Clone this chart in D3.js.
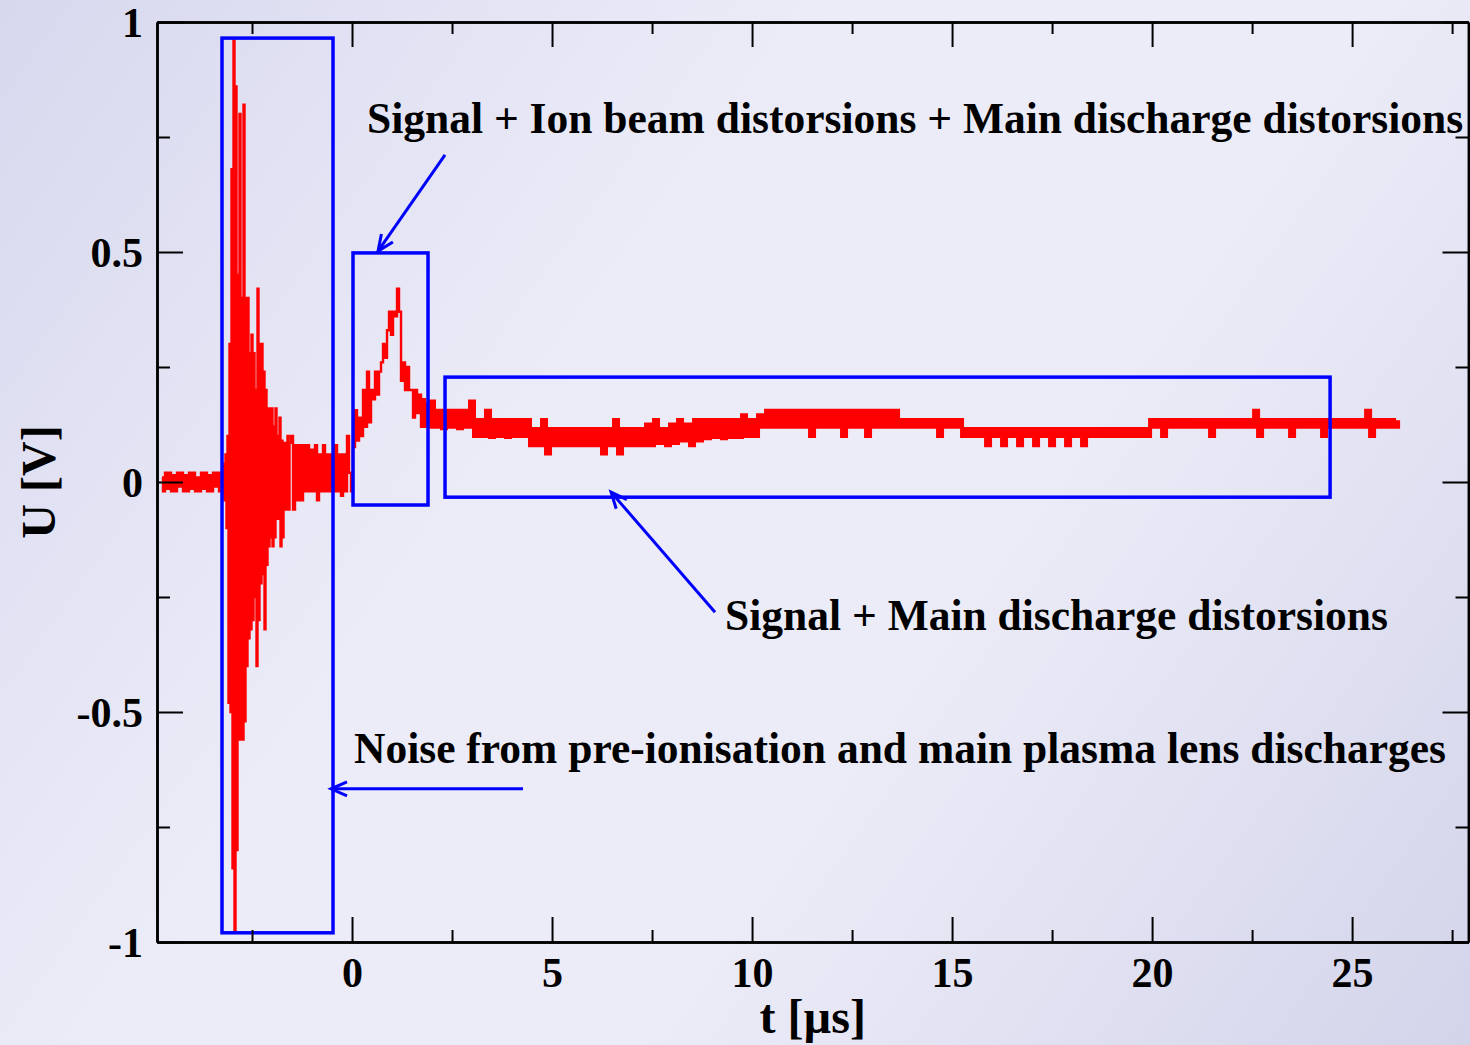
<!DOCTYPE html>
<html>
<head>
<meta charset="utf-8">
<script src="https://cdn.jsdelivr.net/npm/d3@7"></script>
<style>
  body { margin: 0; }
  svg { display: block; }
  text { font-family: "Liberation Serif", "Times New Roman", serif; font-weight: bold; fill: #000; }
</style>
</head>
<body>
<svg id="chart" width="1470" height="1045"></svg>
<script>
// axis ticks
const xMajorTicks = [0, 5, 10, 15, 20, 25];
const xMinorTicks = [-2.5, 2.5, 7.5, 12.5, 17.5, 22.5, 27.5];
const yMajorTicks = [-1, -0.5, 0, 0.5, 1];
const yMinorTicks = [-0.75, -0.25, 0.25, 0.75];

// signal (start t [µs], step [µs], U [V])
const preStart = -4.75, preStep = 0.05;
const preValues = [0.01,-0.02,0.02,-0.015,0.02,-0.02,0.015,-0.02,0.02,-0.01,
                   0.02,-0.02,0.015,-0.02,0.02,-0.015,0.02,-0.02,0.01,-0.02,
                   0.02,-0.015,0.02,-0.02,0.015,-0.02,0.02,-0.01,0.02,-0.02];

const burstStart = -3.275, burstStep = 0.025;
const burstValues = [-0.02,0.02,-0.03,0.04,-0.04,0.06,-0.10,0.10,-0.48,0.30,
                     -0.50,0.68,-0.84,0.96,-0.975,0.86,-0.80,0.45,-0.56,0.80,
                     -0.56,0.40,-0.56,0.82,-0.52,0.40,-0.40,0.40,-0.34,0.28,
                     -0.32,0.32,-0.30,0.28,-0.25,0.20,-0.40,0.42,-0.30,0.30,
                     -0.22,0.30,-0.20,0.24,-0.32,0.20,-0.18,0.16,-0.14,0.16,
                     -0.12,0.16,-0.14,0.12,-0.12,0.16,-0.08,0.10,-0.08,0.14,
                     -0.14,0.09,-0.12,0.085,-0.06,0.085,-0.06,0.10,-0.06,0.085];

const decayStart = -1.5, decayStep = 0.05;
const decayValues = [0.10,-0.06,0.08,-0.04,0.08,-0.04,0.08,-0.02,0.08,-0.02,
                     0.07,-0.02,0.08,-0.04,0.06,-0.02,0.08,-0.02,0.06,-0.02,
                     0.06,-0.02,0.08,-0.02,0.06,-0.03,0.06,-0.02,0.10,0.02,
                     -0.02];

const ionStart = 0.05, ionStep = 0.05;
const ionValues = [0.076,0.156,0.09,0.14,0.10,0.20,0.12,0.24,0.13,0.20,
                   0.18,0.24,0.19,0.24,0.26,0.30,0.27,0.33,0.37,0.32,
                   0.37,0.36,0.42,0.37,0.22,0.26,0.20,0.25,0.20,0.20,
                   0.14,0.20,0.15,0.19,0.12,0.18,0.12,0.17,0.12];

const tailStart = 2.0, tailStep = 0.1;
const tailValues = [0.175,0.12,0.155,0.117,0.155,0.12,0.155,0.117,0.155,0.12,
                    0.175,0.10,0.135,0.10,0.155,0.098,0.135,0.10,0.135,0.098,
                    0.135,0.10,0.135,0.10,0.135,0.08,0.115,0.08,0.135,0.062,
                    0.115,0.08,0.115,0.08,0.115,0.08,0.115,0.08,0.115,0.08,
                    0.115,0.08,0.115,0.062,0.115,0.08,0.135,0.062,0.115,0.08,
                    0.115,0.08,0.115,0.08,0.125,0.08,0.135,0.085,0.115,0.08,
                    0.125,0.085,0.135,0.09,0.125,0.08,0.135,0.09,0.135,0.095,
                    0.135,0.098,0.135,0.095,0.135,0.098,0.135,0.098,0.145,0.10,
                    0.135,0.10,0.145,0.12,0.155,0.12,0.155,0.12,0.155,0.12,
                    0.155,0.12,0.155,0.12,0.155,0.10,0.155,0.12,0.155,0.12,
                    0.155,0.12,0.155,0.10,0.155,0.12,0.155,0.12,0.155,0.10,
                    0.155,0.12,0.155,0.12,0.155,0.12,0.155,0.12,0.135,0.12,
                    0.135,0.12,0.135,0.12,0.135,0.12,0.135,0.10,0.135,0.12,
                    0.135,0.12,0.135,0.10,0.115,0.10,0.115,0.10,0.115,0.08,
                    0.115,0.10,0.115,0.08,0.115,0.10,0.115,0.08,0.115,0.10,
                    0.115,0.08,0.115,0.10,0.115,0.08,0.115,0.10,0.115,0.08,
                    0.115,0.10,0.115,0.08,0.115,0.10,0.115,0.10,0.115,0.10,
                    0.115,0.10,0.115,0.10,0.115,0.10,0.115,0.10,0.115,0.10,
                    0.135,0.12,0.135,0.10,0.135,0.12,0.135,0.12,0.135,0.12,
                    0.135,0.12,0.135,0.12,0.135,0.10,0.135,0.12,0.135,0.12,
                    0.135,0.12,0.135,0.12,0.135,0.12,0.155,0.10,0.135,0.12,
                    0.135,0.12,0.135,0.12,0.135,0.10,0.135,0.12,0.135,0.12,
                    0.135,0.12,0.135,0.10,0.135,0.12,0.135,0.12,0.135,0.12,
                    0.135,0.12,0.135,0.12,0.155,0.10,0.135,0.12,0.135,0.12,
                    0.135,0.12,0.13];

// annotations in data units: boxes [t1, U1, t2, U2], arrows [from t, from U, to t, to U]
const boxes = [[-3.25, 0.965, -0.475, -0.98], [0.025, 0.498, 1.9, -0.05], [2.325, 0.228, 24.45, -0.033]];
const arrows = [[2.325, 0.711, 0.65, 0.502], [9.075, -0.283, 6.475, -0.022], [4.275, -0.667, -0.525, -0.667]];
const noteTexts = ["Signal + Ion beam distorsions + Main discharge distorsions",
                   "Signal + Main discharge distorsions",
                   "Noise from pre-ionisation and main plasma lens discharges"];
const noteAnchors = [[0.375, 0.759], [9.325, -0.322], [0.05, -0.611]];

const W = 1470, H = 1045;
const svg = d3.select("#chart");

const x = d3.scaleLinear().domain([-4.875, 27.91]).range([157, 1468.5]);
const y = d3.scaleLinear().domain([-1, 1]).range([942, 22]);

// background
const defs = svg.append("defs");
const grad = defs.append("linearGradient").attr("id", "bg")
    .attr("gradientUnits", "userSpaceOnUse")
    .attr("x1", 0).attr("y1", 0).attr("x2", W).attr("y2", H);
grad.append("stop").attr("offset", 0).attr("stop-color", "#d7d8ee");
grad.append("stop").attr("offset", 0.38).attr("stop-color", "#ececf8");
grad.append("stop").attr("offset", 0.62).attr("stop-color", "#ececf8");
grad.append("stop").attr("offset", 1).attr("stop-color", "#d3d4ea");
svg.append("rect").attr("width", W).attr("height", H).attr("fill", "url(#bg)");

defs.append("marker").attr("id", "head")
    .attr("markerUnits", "userSpaceOnUse")
    .attr("viewBox", "-20 -10 24 20")
    .attr("refX", 0).attr("refY", 0)
    .attr("markerWidth", 24).attr("markerHeight", 20)
    .attr("orient", "auto")
  .append("path")
    .attr("d", "M-16,-7L0,0L-16,7")
    .attr("fill", "none").attr("stroke", "#0000ff").attr("stroke-width", 3);

// signal: dense early part and the slower tail, drawn as steps like the sampled scope data
const toPoints = ([t0, dt, vals]) => vals.map((u, i) => [t0 + i * dt, u]);
const earlyPoints = [
  [preStart, preStep, preValues],
  [burstStart, burstStep, burstValues],
  [decayStart, decayStep, decayValues],
  [ionStart, ionStep, ionValues]
].flatMap(toPoints);
const tailPoints = [earlyPoints[earlyPoints.length - 1]].concat(toPoints([tailStart, tailStep, tailValues]));

const line = d3.line().x(d => x(d[0])).y(d => y(d[1])).curve(d3.curveStep);
svg.append("path").datum(earlyPoints)
    .attr("d", line)
    .attr("fill", "none")
    .attr("stroke", "#ff0000")
    .attr("stroke-width", 2.4);
svg.append("path").datum(tailPoints)
    .attr("d", line)
    .attr("fill", "none")
    .attr("stroke", "#ff0000")
    .attr("stroke-width", 4);

// annotation boxes and arrows
svg.append("g").selectAll("rect").data(boxes).join("rect")
    .attr("x", d => x(d[0])).attr("y", d => y(d[1]))
    .attr("width", d => x(d[2]) - x(d[0])).attr("height", d => y(d[3]) - y(d[1]))
    .attr("fill", "none").attr("stroke", "#0000ff").attr("stroke-width", 3.5);

svg.append("g").selectAll("line").data(arrows).join("line")
    .attr("x1", d => x(d[0])).attr("y1", d => y(d[1]))
    .attr("x2", d => x(d[2])).attr("y2", d => y(d[3]))
    .attr("stroke", "#0000ff").attr("stroke-width", 3)
    .attr("marker-end", "url(#head)");

// axes, ticks pointing inward on all four sides
const fmt = d => String(d);
function styleAxis(g) {
  g.select(".domain").attr("stroke", "#000").attr("stroke-width", 2.5);
  g.selectAll(".tick line").attr("stroke", "#000").attr("stroke-width", 2);
  g.selectAll("text").attr("font-family", null).attr("font-size", 42);
}

svg.append("g").attr("transform", `translate(0,${y(-1)})`)
    .call(d3.axisBottom(x).tickValues(xMajorTicks).tickSize(-25).tickSizeOuter(0).tickFormat(fmt))
    .call(styleAxis)
    .call(g => g.selectAll("text").attr("y", 45).attr("dy", null));
svg.append("g").attr("transform", `translate(0,${y(-1)})`)
    .call(d3.axisBottom(x).tickValues(xMinorTicks).tickSize(-12).tickSizeOuter(0).tickFormat(""))
    .call(styleAxis);
svg.append("g").attr("transform", `translate(0,${y(1)})`)
    .call(d3.axisTop(x).tickValues(xMajorTicks).tickSize(-25).tickSizeOuter(0).tickFormat(""))
    .call(styleAxis);
svg.append("g").attr("transform", `translate(0,${y(1)})`)
    .call(d3.axisTop(x).tickValues(xMinorTicks).tickSize(-12).tickSizeOuter(0).tickFormat(""))
    .call(styleAxis);

svg.append("g").attr("transform", `translate(${x.range()[0]},0)`)
    .call(d3.axisLeft(y).tickValues(yMajorTicks).tickSize(-26).tickSizeOuter(0).tickPadding(14).tickFormat(fmt))
    .call(styleAxis)
    .call(g => g.selectAll("text").attr("dy", "0.34em"));
svg.append("g").attr("transform", `translate(${x.range()[0]},0)`)
    .call(d3.axisLeft(y).tickValues(yMinorTicks).tickSize(-13).tickSizeOuter(0).tickFormat(""))
    .call(styleAxis);
svg.append("g").attr("transform", `translate(${x.range()[1]},0)`)
    .call(d3.axisRight(y).tickValues(yMajorTicks).tickSize(-26).tickSizeOuter(0).tickFormat(""))
    .call(styleAxis);
svg.append("g").attr("transform", `translate(${x.range()[1]},0)`)
    .call(d3.axisRight(y).tickValues(yMinorTicks).tickSize(-13).tickSizeOuter(0).tickFormat(""))
    .call(styleAxis);

// axis titles
svg.append("text")
    .attr("x", (x.range()[0] + x.range()[1]) / 2).attr("y", 1033)
    .attr("text-anchor", "middle").attr("font-size", 48)
    .text("t [µs]");
svg.append("text")
    .attr("transform", `translate(55,${(y.range()[0] + y.range()[1]) / 2}) rotate(-90)`)
    .attr("text-anchor", "middle").attr("font-size", 48)
    .text("U [V]");

// notes
svg.append("g").selectAll("text").data(noteTexts).join("text")
    .attr("x", (d, i) => x(noteAnchors[i][0]))
    .attr("y", (d, i) => y(noteAnchors[i][1]))
    .attr("font-size", 43.5)
    .text(d => d);
</script>
</body>
</html>
